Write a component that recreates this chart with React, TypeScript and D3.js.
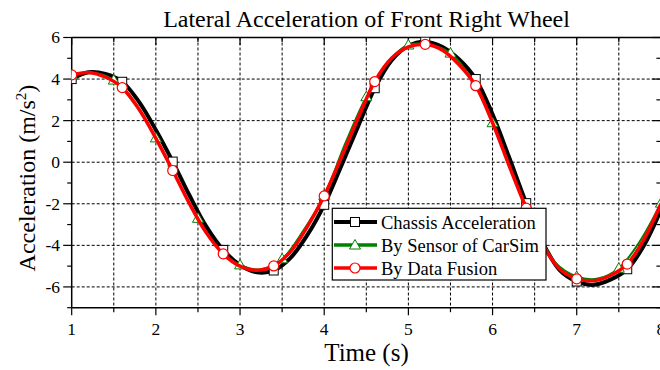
import React from "react";
import * as d3 from "d3";

// ---- Data ----
const blackX = [1.0,1.2,1.4,1.6,1.8,2.0,2.2,2.4,2.6,2.8,3.0,3.2,3.4,3.6,3.8,4.0,4.2,4.4,4.6,4.8,5.0,5.2,5.4,5.6,5.8,6.0,6.2,6.4,6.6,6.8,7.0,7.2,7.4,7.6,7.8,8.0];
const chassis = [4.0,4.33,4.25,3.87,2.9,1.55,0.03,-1.6,-3.1,-4.22,-4.95,-5.3,-5.21,-4.6,-3.5,-2.05,-0.2,1.7,3.56,4.9,5.6,5.8,5.55,4.95,4.0,2.3,0.2,-1.97,-3.9,-5.2,-5.74,-5.9,-5.65,-5.15,-4.0,-2.3];
const fusion = [4.2,4.32,4.1,3.59,2.55,1.15,-0.4,-2.0,-3.4,-4.41,-5.0,-5.2,-4.99,-4.3,-3.1,-1.62,0.2,2.1,3.88,5.0,5.55,5.67,5.4,4.7,3.68,1.9,-0.2,-2.21,-4.0,-5.15,-5.61,-5.7,-5.45,-4.9,-3.7,-2.0];
const sensorX = [1.0,1.25,1.5,1.75,2.0,2.25,2.5,2.75,3.0,3.25,3.5,3.75,4.0,4.25,4.5,4.75,5.0,5.25,5.5,5.75,6.0,6.25,6.5,6.75,7.0,7.25,7.5,7.75,8.0];
const sensor = [4.2,4.3,3.95,2.8,1.17,-0.8,-2.7,-4.2,-4.94,-5.15,-4.65,-3.3,-1.6,0.9,3.15,4.8,5.64,5.65,5.25,4.0,1.9,-0.7,-3.0,-4.85,-5.5,-5.6,-5.1,-3.8,-1.97];
const seriesNames = ["Chassis Acceleration", "By Sensor of CarSim", "By Data Fusion"];
const xTicks = [1, 2, 3, 4, 5, 6, 7, 8];
const yTicks = [6, 4, 2, 0, -2, -4, -6];

const FONT = "'Liberation Serif', 'Times New Roman', serif";

export default function App() {
  const W = 660, H = 370;
  const x = d3.scaleLinear().domain([1, 8]).range([71.7, 660.9]);
  const y = d3.scaleLinear().domain([-7, 6]).range([307.7, 37.5]);
  const x0 = x(1), x1 = x(8), yTop = y(6), yBot = y(-7);

  const line = d3
    .line<[number, number]>()
    .x((d) => x(d[0]))
    .y((d) => y(d[1]))
    .curve(d3.curveCatmullRom.alpha(0.5));

  const bPts: [number, number][] = blackX.map((v, i) => [v, chassis[i]]);
  const rPts: [number, number][] = blackX.map((v, i) => [v, fusion[i]]);
  const gPts: [number, number][] = sensorX.map((v, i) => [v, sensor[i]]);

  const bMarks = bPts.filter((_, i) => i % 3 === 0);
  const rMarks = rPts.filter((_, i) => i % 3 === 0);
  const gMarks = gPts.filter((_, i) => i % 2 === 0);

  const xMinor = d3.range(1, 8.01, 0.5);
  const yMinor = d3.range(-7, 6.01, 1);

  const square = (cx: number, cy: number, k: string | number) => (
    <rect key={k} x={cx - 4.5} y={cy - 4.5} width={9} height={9} fill="#fff" stroke="#000" strokeWidth={1} />
  );
  const tri = (cx: number, cy: number, k: string | number) => (
    <path key={k} d={`M${cx},${cy - 5.5}L${cx + 5.5},${cy + 4}L${cx - 5.5},${cy + 4}Z`} fill="#fff" stroke="#008000" strokeWidth={1} />
  );
  const circ = (cx: number, cy: number, k: string | number) => (
    <circle key={k} cx={cx} cy={cy} r={5} fill="#fff" stroke="#ff0000" strokeWidth={1.2} />
  );

  const legX = 332.3, legY = 208.3, legW = 213.7, legH = 71.7;
  const rowsY = [222, 245, 268];

  return (
    <svg width={W} height={H} style={{ position: "absolute", left: 0, top: 0, background: "#fff" }} fontFamily={FONT}>
      <rect width={W} height={H} fill="#fff" />
      <defs>
        <clipPath id="plotclip">
          <rect x={x0} y={yTop} width={x1 - x0} height={yBot - yTop} />
        </clipPath>
      </defs>
      {/* grid */}
      {xMinor.filter((v) => v > 1 && v < 8).map((v) => (
        <line key={"gx" + v} x1={x(v)} x2={x(v)} y1={yTop} y2={yBot} stroke="#000" strokeWidth={1} strokeDasharray="3,2" />
      ))}
      {yTicks.map((v) => (
        <line key={"gy" + v} x1={x0} x2={x1} y1={y(v)} y2={y(v)} stroke="#000" strokeWidth={1} strokeDasharray="3,2" />
      ))}
      {/* frame */}
      <line x1={x0} x2={x1} y1={yTop} y2={yTop} stroke="#000" strokeWidth={1.5} />
      <line x1={x0} x2={x1} y1={yBot} y2={yBot} stroke="#000" strokeWidth={1.5} />
      <line x1={x0} x2={x0} y1={yTop} y2={yBot} stroke="#000" strokeWidth={1.5} />
      <line x1={x1} x2={x1} y1={yTop} y2={yBot} stroke="#000" strokeWidth={1.5} />
      {/* x ticks */}
      {xMinor.map((v) => {
        const major = Number.isInteger(v);
        const len = major ? 7.5 : 4.5;
        return (
          <g key={"xt" + v}>
            <line x1={x(v)} x2={x(v)} y1={yBot} y2={yBot + len} stroke="#000" strokeWidth={1.2} />
            <line x1={x(v)} x2={x(v)} y1={yTop} y2={yTop + len} stroke="#000" strokeWidth={1.2} />
          </g>
        );
      })}
      {yMinor.map((v) => {
        const major = v % 2 === 0;
        const len = major ? 8.5 : 4.5;
        return (
          <g key={"yt" + v}>
            <line x1={x0 - len} x2={x0} y1={y(v)} y2={y(v)} stroke="#000" strokeWidth={1.2} />
            <line x1={x1 - len} x2={x1} y1={y(v)} y2={y(v)} stroke="#000" strokeWidth={1.2} />
          </g>
        );
      })}
      {xTicks.map((v) => (
        <text key={"xl" + v} x={x(v)} y={335} textAnchor="middle" fontSize={17.5} fill="#000">
          {v}
        </text>
      ))}
      {yTicks.map((v) => (
        <text key={"yl" + v} x={60} y={y(v)} dy="0.34em" textAnchor="end" fontSize={17.5} fill="#000">
          {v}
        </text>
      ))}
      {/* series */}
      <g clipPath="url(#plotclip)">
        <path d={line(bPts) || ""} fill="none" stroke="#000" strokeWidth={4} />
        {bMarks.map((p, i) => square(x(p[0]), y(p[1]), "bm" + i))}
        <path d={line(gPts) || ""} fill="none" stroke="#008000" strokeWidth={2} />
        {gMarks.map((p, i) => tri(x(p[0]), y(p[1]), "gm" + i))}
        <path d={line(rPts) || ""} fill="none" stroke="#ff0000" strokeWidth={3.5} />
        {rMarks.map((p, i) => circ(x(p[0]), y(p[1]), "rm" + i))}
      </g>
      {/* legend */}
      <rect x={legX} y={legY} width={legW} height={legH} fill="#fff" stroke="#000" strokeWidth={1.2} />
      {seriesNames.map((name, i) => {
        const ly = rowsY[i];
        const color = ["#000", "#008000", "#ff0000"][i];
        const sw = [4, 3.5, 3.5][i];
        const mx = 355;
        return (
          <g key={"lg" + i}>
            <line x1={334} x2={377} y1={ly} y2={ly} stroke={color} strokeWidth={sw} />
            {i === 0 ? square(mx, ly, "ls") : i === 1 ? tri(mx, ly, "lt") : circ(mx, ly, "lc")}
            <text x={381} y={ly + 6.5} fontSize={18.5} fill="#000">
              {name}
            </text>
          </g>
        );
      })}
      {/* titles */}
      <text x={366.5} y={26.5} textAnchor="middle" fontSize={24} fill="#000">
        Lateral Acceleration of Front Right Wheel
      </text>
      <text x={366.5} y={361} textAnchor="middle" fontSize={25} fill="#000">
        Time (s)
      </text>
      <text transform={`translate(35,178) rotate(-90)`} textAnchor="middle" fontSize={24} fill="#000">
        Acceleration (m/s
        <tspan fontSize={15} dy={-9}>2</tspan>
        <tspan dy={9}>)</tspan>
      </text>
    </svg>
  );
}
